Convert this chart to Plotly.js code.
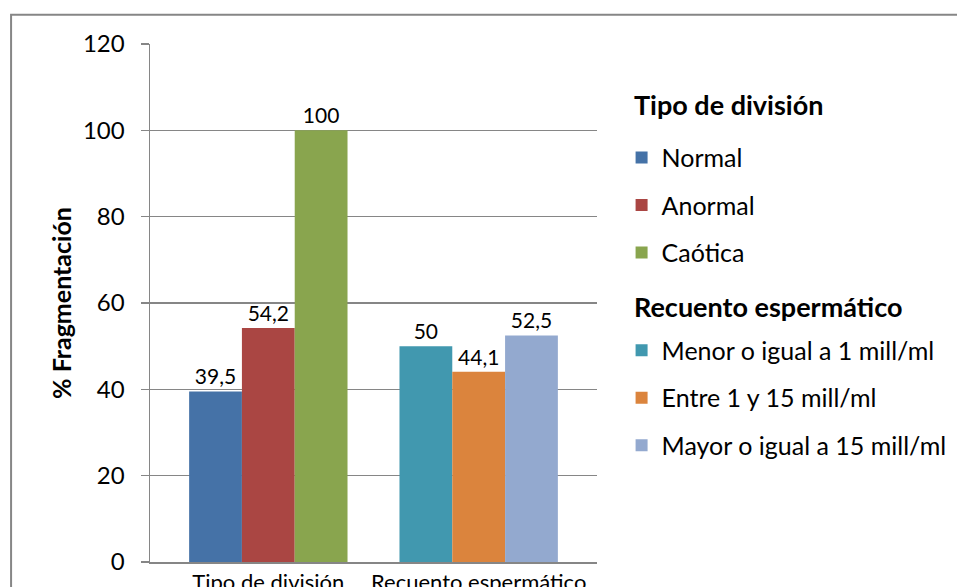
<!DOCTYPE html>
<html>
<head>
<meta charset="utf-8">
<script src="https://cdn.plot.ly/plotly-3.0.1.min.js"></script>
<style>
  html, body { margin: 0; padding: 0; background: #fff; }
  #chart { width: 957px; height: 587px; }
</style>
</head>
<body>
<div id="chart"></div>
<script>
// Categories on the x axis
const categories = ['Tipo de división', 'Recuento espermático'];

// Tipo de división series (first category only)
const normal   = [39.5, null];
const anormal  = [54.2, null];
const caotica  = [100, null];

// Recuento espermático series (second category only)
const menorIgual1  = [null, 50];
const entre1y15    = [null, 44.1];
const mayorIgual15 = [null, 52.5];

const seriesNames = [
  'Normal', 'Anormal', 'Caótica',
  'Menor o igual a 1 mill/ml', 'Entre 1 y 15 mill/ml', 'Mayor o igual a 15 mill/ml'
];
const groupTitles = ['Tipo de división', 'Recuento espermático'];

const yTicks = [0, 20, 40, 60, 80, 100, 120];

const colors = ['#4572A7', '#AA4643', '#89A54E', '#4198AF', '#DB843D', '#93A9CF'];
const slots  = ['a', 'b', 'c', 'a', 'b', 'c'];
const legendOf = ['legend', 'legend', 'legend', 'legend2', 'legend2', 'legend2'];
const seriesValues = [normal, anormal, caotica, menorIgual1, entre1y15, mayorIgual15];

const FONT = 'Lato, "Open Sans", sans-serif';

// Values shown with a decimal comma
const fmt = v => (v === null ? '' : String(v).replace('.', ','));

const traces = seriesValues.map((vals, i) => ({
  type: 'bar',
  name: seriesNames[i],
  x: categories,
  y: vals,
  offsetgroup: slots[i],
  legend: legendOf[i],
  legendgroup: 'g' + i,
  marker: { color: colors[i], line: { width: 0 } },
  text: vals.map(fmt),
  textposition: 'outside',
  cliponaxis: false,
  constraintext: 'none',
  textfont: { family: FONT, size: 21, color: '#000' },
  hoverinfo: 'skip'
}));

const legendStyle = (yTop) => ({
  x: 1.055, xanchor: 'left',
  y: yTop, yanchor: 'top',
  tracegroupgap: 12,
  font: { family: FONT, size: 25, color: '#000' },
  bgcolor: 'rgba(0,0,0,0)',
  itemclick: false, itemdoubleclick: false
});

// Bold headings above each block of legend entries
const headingFont = { family: FONT, size: 27, color: '#000', weight: 'bold' };
const headings = [
  { text: groupTitles[0], y: 0.8827 },
  { text: groupTitles[1], y: 0.4923 }
].map(h => ({
  text: h.text, xref: 'paper', yref: 'paper', x: 1.079, y: h.y,
  xanchor: 'left', yanchor: 'middle', showarrow: false, font: headingFont
}));

const layout = {
  width: 957,
  height: 587,
  margin: { l: 150, r: 359.7, t: 44.3, b: 25.3, autoexpand: false },
  paper_bgcolor: '#fff',
  plot_bgcolor: '#fff',
  barmode: 'group',
  bargap: 0.247,
  bargroupgap: 0,
  showlegend: true,
  legend: legendStyle(0.8247),
  legend2: legendStyle(0.4528),
  xaxis: {
    type: 'category',
    range: [-0.5625, 1.5625],
    showline: true, linecolor: '#868686', linewidth: 1.5,
    ticks: '', showgrid: false, zeroline: false,
    tickfont: { family: FONT, size: 22, color: '#000' },
    fixedrange: true
  },
  yaxis: {
    range: [0, 120],
    tickvals: yTicks,
    ticktext: yTicks.map(String),
    showline: true, linecolor: '#868686', linewidth: 1.5,
    ticks: 'outside', ticklen: 8, tickcolor: '#868686', tickwidth: 1.5,
    ticklabelstandoff: 11,
    showgrid: true, gridcolor: '#868686', gridwidth: 1.5,
    zeroline: false,
    tickfont: { family: FONT, size: 24, color: '#000' },
    title: { text: '% Fragmentación', standoff: 4, font: { family: FONT, size: 25, color: '#000', weight: 'bold' } },
    fixedrange: true
  },
  annotations: headings,
  shapes: [{
    type: 'rect', xref: 'paper', yref: 'paper',
    x0: -0.3108, x1: 1.82, y0: -0.2, y1: 1.0566,
    line: { color: '#868686', width: 2 }, fillcolor: 'rgba(0,0,0,0)', layer: 'below'
  }]
};

Plotly.newPlot('chart', traces, layout, { displayModeBar: false, staticPlot: true });
</script>
</body>
</html>
